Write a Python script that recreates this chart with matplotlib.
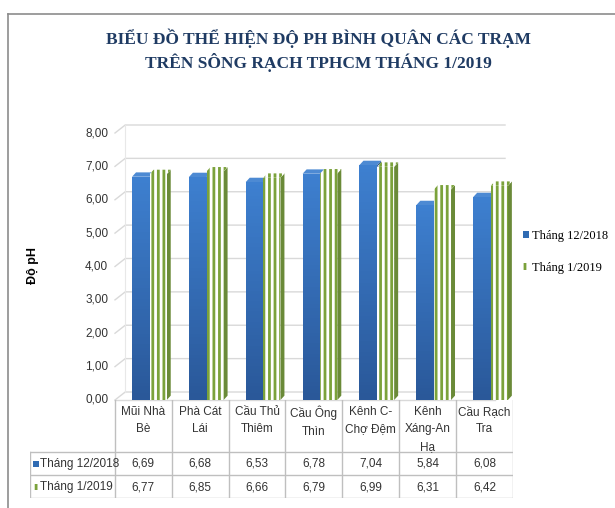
import numpy as np
import matplotlib.pyplot as plt
from matplotlib.patches import Polygon, Rectangle
from matplotlib.lines import Line2D
from matplotlib.colors import LinearSegmentedColormap
from matplotlib import font_manager

# dữ liệu
tram = ["Mũi Nhà\nBè", "Phà Cát\nLái", "Cầu Thủ\nThiêm", "Cầu Ông\nThìn",
        "Kênh C-\nChợ Đệm", "Kênh\nXáng-An\nHạ", "Cầu Rạch\nTra"]
ph_12_2018 = [6.69, 6.68, 6.53, 6.78, 7.04, 5.84, 6.08]
ph_1_2019 = [6.77, 6.85, 6.66, 6.79, 6.99, 6.31, 6.42]
ten_chuoi = ["Tháng 12/2018", "Tháng 1/2019"]
y_ticks = [0, 1, 2, 3, 4, 5, 6, 7, 8]

names = {f.name for f in font_manager.fontManager.ttflist}
sans = "Liberation Sans Narrow" if "Liberation Sans Narrow" in names else "Liberation Sans"
serif = "Liberation Serif"

plt.rcParams['hatch.linewidth'] = 2.0
xanh = "#2F6BB3"
luc = "#7BA23B"
xam = "#333333"

fig = plt.figure(figsize=(6.15, 5.08), dpi=100)
W, H = 615, 508

# khung biểu đồ
fig.add_artist(Line2D([8 / W, 8 / W], [0, 1 - 14 / H], color="#8C8C8C", lw=1.2))
fig.add_artist(Line2D([8 / W, 1], [1 - 14 / H, 1 - 14 / H], color="#8C8C8C", lw=1.2))

# tiêu đề
fig.text(318 / W, 1 - 38 / H, "BIỂU ĐỒ THỂ HIỆN ĐỘ PH BÌNH QUÂN CÁC TRẠM", ha="center", va="center",
         family=serif, weight="bold", fontsize=12.5, color="#1F3B63")
fig.text(318 / W, 1 - 62 / H, "TRÊN SÔNG RẠCH TPHCM THÁNG 1/2019", ha="center", va="center",
         family=serif, weight="bold", fontsize=12.5, color="#1F3B63")

ax = fig.add_axes([115 / W, 108 / H, 398 / W, 267 / H])
n = len(tram)
x = np.arange(n)
wdx, wdy = 0.18, 0.24  # độ sâu tường sau
bdx, bdy = 0.07, 0.13  # độ sâu cột

# lưới trên tường sau
for v in y_ticks:
    ax.plot([-0.5, -0.5 + wdx, 6.36], [v, v + wdy, v + wdy], color="#D9D9D9", lw=1, clip_on=False, zorder=0)
    ax.text(-0.62, v, f"{v:.2f}".replace(".", ","), ha="right", va="center", fontsize=8.5,
            family=sans, color=xam)
ax.plot([-0.5, 6.36 - wdx], [0, 0], color="#D9D9D9", lw=1, clip_on=False, zorder=0)
ax.plot([-0.5 + wdx, -0.5 + wdx], [wdy, 8 + wdy], color="#E8E8E8", lw=0.8, clip_on=False, zorder=0)

grad = LinearSegmentedColormap.from_list("g", ["#2A5899", "#3E80D0"])
gimg = np.linspace(0, 1, 64).reshape(-1, 1)

bw = 0.31
for i in range(n):
    # cột tháng 12/2018
    x0, h = x[i] - 0.2, ph_12_2018[i]
    ax.add_patch(Polygon([(x0 + bw, 0), (x0 + bw + bdx, bdy), (x0 + bw + bdx, h + bdy), (x0 + bw, h)],
                         closed=True, fc="#1F4C86", lw=0, zorder=2))
    ax.add_patch(Polygon([(x0, h), (x0 + bdx, h + bdy), (x0 + bw + bdx, h + bdy), (x0 + bw, h)],
                         closed=True, fc="#4D8AD3", lw=0, zorder=2))
    r = Rectangle((x0, 0), bw, h, fc=xanh, lw=0, zorder=2)
    ax.add_patch(r)
    im = ax.imshow(gimg, extent=[x0, x0 + bw, 0, h], origin="lower", aspect="auto", cmap=grad, zorder=2.1)
    im.set_clip_path(r)
    # cột tháng 1/2019
    x1, h2 = x0 + bw, ph_1_2019[i]
    gw = 0.30
    ax.add_patch(Polygon([(x1 + gw, 0), (x1 + gw + bdx, bdy), (x1 + gw + bdx, h2 + bdy), (x1 + gw, h2)],
                         closed=True, fc="#6A8A38", lw=0, zorder=3))
    ax.add_patch(Polygon([(x1, h2), (x1 + bdx, h2 + bdy), (x1 + gw + bdx, h2 + bdy), (x1 + gw, h2)],
                         closed=True, fc="white", ec=luc, hatch="|||", lw=0, zorder=3))
    ax.add_patch(Rectangle((x1, 0), gw, h2, fc="white", ec=luc, hatch="|||", lw=0, zorder=3))

ax.set_xlim(-0.5, 6.5)
ax.set_ylim(0, 8)
ax.axis("off")

fig.text(33 / W, 1 - 265 / H, "Độ pH", rotation=90, ha="center", va="center",
         family="Liberation Sans", weight="bold", fontsize=9, color="black")

# chú thích
h1 = Rectangle((0, 0), 1, 1, fc=xanh, lw=0)
h2p = Rectangle((0, 0), 1, 1, fc="white", ec=luc, hatch="|||", lw=0)
fig.legend([h1, h2p], ten_chuoi, loc="center left", bbox_to_anchor=(518 / W, 1 - 252 / H),
           frameon=False, handlelength=0.5, handleheight=0.5, handletextpad=0.25, labelspacing=1.55,
           borderpad=0.2, borderaxespad=0.2, prop={"family": serif, "size": 9})

# bảng số liệu
tax = fig.add_axes([30 / W, 10 / H, 483 / W, 98 / H])
tax.set_xlim(-0.5 - 85 / 57, 6.5)
tax.set_ylim(98, 0)
tax.axis("off")
lc = "#BFBFBF"
for i in range(n + 1):
    tax.plot([i - 0.5, i - 0.5], [0, 98], color=lc, lw=1)
tax.plot([-0.5 - 85 / 57] * 2, [52, 98], color=lc, lw=1)
for yy in [52, 75, 98]:
    tax.plot([-0.5 - 85 / 57, 6.5], [yy, yy], color=lc, lw=1)
for i in range(n):
    tax.text(x[i], 6, tram[i], ha="center", va="top", fontsize=8.5, family=sans, color=xam, linespacing=1.6)
    tax.text(x[i], 63.5, f"{ph_12_2018[i]:.2f}".replace(".", ","), ha="center", va="center",
             fontsize=8.5, family=sans, color=xam)
    tax.text(x[i], 87, f"{ph_1_2019[i]:.2f}".replace(".", ","), ha="center", va="center",
             fontsize=8.5, family=sans, color=xam)
for j, yy in enumerate([63.5, 87]):
    tax.add_patch(Rectangle((-0.5 - 85 / 57 + 0.05, yy - 3), 0.1, 6,
                            fc=xanh if j == 0 else "white", ec=luc if j else xanh,
                            hatch="|||" if j else None, lw=0))
    tax.text(-0.5 - 85 / 57 + 0.17, yy, ten_chuoi[j], ha="left", va="center", fontsize=8.5,
             family=sans, color=xam)

fig.savefig("out.png", dpi=100)
